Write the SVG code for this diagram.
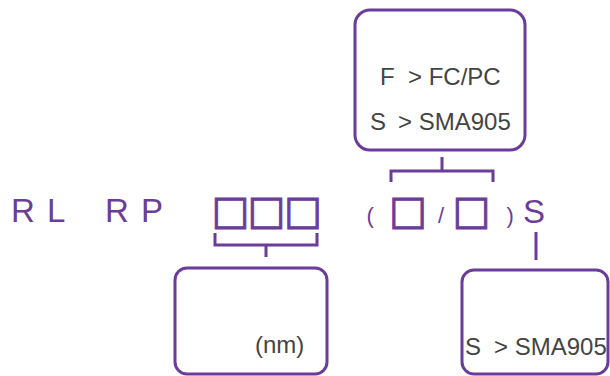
<svg xmlns="http://www.w3.org/2000/svg" width="610" height="376" viewBox="0 0 610 376">
<style>
.box{fill:#fff;stroke:#6a3d9a;stroke-width:3}
.ln{fill:none;stroke:#6a3d9a;stroke-width:3}
.gt{font-family:"Liberation Sans",Arial,sans-serif;font-size:24px;fill:#444}
.pt{font-family:"Liberation Sans",Arial,sans-serif;font-size:33px;fill:#6a3d9a}
.sm{font-family:"Liberation Sans",Arial,sans-serif;font-size:22px;fill:#6a3d9a}
.sq{font-family:"DejaVu Sans",sans-serif;font-size:40px;fill:#6a3d9a;stroke:#6a3d9a;stroke-width:1;text-anchor:middle}
</style>
<rect width="610" height="376" fill="#fff"/>
<g id="connectors">
<path class="ln" d="M442 157V171M391 182V171H493V182"/>
<path class="ln" d="M215 233V245H317V233M266 245V257"/>
<path class="ln" d="M536 232V260"/>
</g>
<g id="node-top">
<rect class="box" x="355" y="10" width="170" height="140" rx="15"/>
<text class="gt" y="85"><tspan x="380">F</tspan><tspan x="408">&gt; FC/PC</tspan></text>
<text class="gt" y="130"><tspan x="370">S</tspan><tspan x="398">&gt; SMA905</tspan></text>
</g>
<g id="node-code">
<text class="pt" y="222"><tspan x="11">R</tspan><tspan x="47">L</tspan><tspan x="105">R</tspan><tspan x="141">P</tspan></text>
<text class="sq" y="224"><tspan x="230.5">□</tspan><tspan x="266.5">□</tspan><tspan x="303">□</tspan></text>
<text class="sm" y="223"><tspan x="366.5">(</tspan><tspan x="438">/</tspan><tspan x="506.5">)</tspan></text>
<text class="sq" y="224"><tspan x="408">□</tspan><tspan x="471.5">□</tspan></text>
<text class="pt" x="523" y="223">S</text>
</g>
<g id="node-left">
<rect class="box" x="175" y="268" width="152" height="106" rx="12"/>
<text class="gt" x="255" y="353">(nm)</text>
</g>
<g id="node-right">
<rect class="box" x="462" y="270" width="146" height="104" rx="12"/>
<text class="gt" y="355"><tspan x="465">S</tspan><tspan x="494">&gt; SMA905</tspan></text>
</g>
</svg>
